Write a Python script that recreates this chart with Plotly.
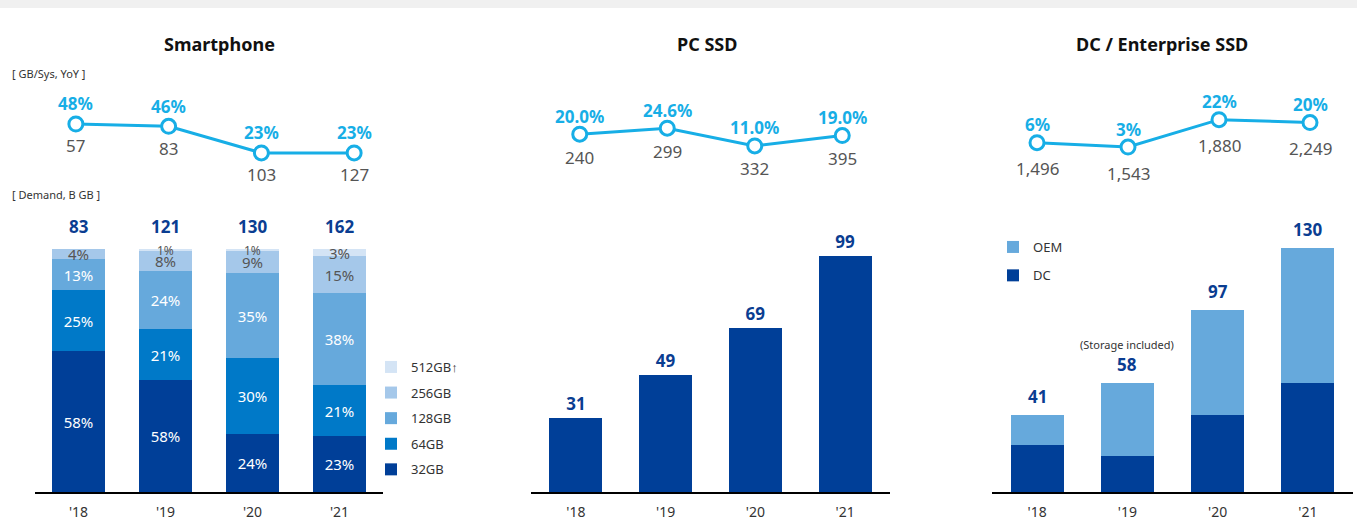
import plotly.graph_objects as go

W, H = 1357, 521
FONT = "Noto Sans"

years = ["'18", "'19", "'20", "'21"]

# Smartphone
sp_yoy = [48, 46, 23, 23]
sp_yoy_text = ["48%", "46%", "23%", "23%"]
sp_gbsys = ["57", "83", "103", "127"]
sp_total = [83, 121, 130, 162]
sp_segments = ["32GB", "64GB", "128GB", "256GB", "512GB↑"]
sp_share = {
    "32GB": [58, 46, 24, 23],
    "64GB": [25, 21, 31, 21],
    "128GB": [13, 24, 35, 38],
    "256GB": [4, 8, 9, 15],
    "512GB↑": [0, 1, 1, 3],
}
sp_label = {
    "32GB": ["58%", "58%", "24%", "23%"],
    "64GB": ["25%", "21%", "30%", "21%"],
    "128GB": ["13%", "24%", "35%", "38%"],
    "256GB": ["4%", "8%", "9%", "15%"],
    "512GB↑": ["", "1%", "1%", "3%"],
}

# PC SSD
pc_yoy = [20.0, 24.6, 11.0, 19.0]
pc_yoy_text = ["20.0%", "24.6%", "11.0%", "19.0%"]
pc_gbsys = ["240", "299", "332", "395"]
pc_demand = [31, 49, 69, 99]

# DC / Enterprise SSD
dc_yoy = [6, 3, 22, 20]
dc_yoy_text = ["6%", "3%", "22%", "20%"]
dc_gbsys = ["1,496", "1,543", "1,880", "2,249"]
dc_dc = [25, 19, 41, 58]
dc_oem = [16, 39, 56, 72]
dc_total = [41, 58, 97, 130]

C32 = "#003f98"
C64 = "#0079c8"
C128 = "#66a9dc"
C256 = "#a5c8ea"
C512 = "#d4e4f5"
CLINE = "#17aee6"
CTOT = "#0a3d91"
CGRAY = "#555555"

seg_colors = {"32GB": C32, "64GB": C64, "128GB": C128, "256GB": C256, "512GB↑": C512}


def px_x(p):
    return p / W


def px_y(p):
    return 1 - p / H


fig = go.Figure()

# ---- line charts ----
def add_line(xa, ya, vals):
    fig.add_trace(go.Scatter(
        x=years, y=vals, mode="lines+markers", xaxis=xa, yaxis=ya,
        line=dict(color=CLINE, width=3),
        marker=dict(size=14, color="white", line=dict(color=CLINE, width=3)),
        showlegend=False, hoverinfo="skip", cliponaxis=False))

add_line("x", "y", sp_yoy)
add_line("x3", "y3", pc_yoy)
add_line("x5", "y5", dc_yoy)

annotations = []

def line_labels(xref, yref, vals, top_txt, bot_txt, up, down):
    for xv, yv, t, b in zip(years, vals, top_txt, bot_txt):
        annotations.append(dict(x=xv, y=yv, xref=xref, yref=yref, text=t,
                                showarrow=False, yshift=up,
                                font=dict(family=FONT, size=17, color=CLINE, weight="bold")))
        annotations.append(dict(x=xv, y=yv, xref=xref, yref=yref, text=b,
                                showarrow=False, yshift=-down,
                                font=dict(family=FONT, size=17, color=CGRAY)))

line_labels("x", "y", sp_yoy, sp_yoy_text, sp_gbsys, 20, 22)
line_labels("x3", "y3", pc_yoy, pc_yoy_text, pc_gbsys, 18, 23)
line_labels("x5", "y5", dc_yoy, dc_yoy_text, dc_gbsys, 18, 26)

# ---- smartphone stacked bars ----
n_seg = len(sp_segments)
for i, seg in enumerate(sp_segments):
    light = seg in ("256GB", "512GB↑")
    top_seg = seg == "512GB↑"
    fig.add_trace(go.Bar(
        x=years, y=sp_share[seg], name=seg, xaxis="x2", yaxis="y2",
        marker=dict(color=seg_colors[seg], line=dict(width=0)),
        width=0.61, text=None if top_seg else sp_label[seg],
        textposition="none" if top_seg else "inside",
        insidetextanchor="middle", constraintext="none", textangle=0,
        insidetextfont=dict(family=FONT, size=15,
                            color=CGRAY if light else "white"),
        legend="legend", legendgroup=seg, legendrank=n_seg - i, hoverinfo="skip"))

# labels of the thin top segment, centred on the segment
for xv, sh, t in zip(years, sp_share["512GB↑"], sp_label["512GB↑"]):
    if t:
        annotations.append(dict(x=xv, y=100 - sh / 2, xref="x2", yref="y2", text=t,
                                showarrow=False, yanchor="middle",
                                font=dict(family=FONT, size=12 if sh < 2 else 15, color=CGRAY)))

for xv, t in zip(years, sp_total):
    annotations.append(dict(x=xv, y=100, xref="x2", yref="y2", text=str(t),
                            showarrow=False, yanchor="bottom", yshift=9,
                            font=dict(family=FONT, size=17, color=CTOT, weight="bold")))

# ---- PC SSD bars ----
fig.add_trace(go.Bar(
    x=years, y=pc_demand, xaxis="x4", yaxis="y4", width=0.59,
    marker=dict(color=C32, line=dict(width=0)), showlegend=False,
    text=[str(v) for v in pc_demand], textposition="outside", cliponaxis=False,
    outsidetextfont=dict(family=FONT, size=17, color=CTOT, weight="bold"),
    hoverinfo="skip"))

# ---- DC bars ----
fig.add_trace(go.Bar(
    x=years, y=dc_dc, name="DC", xaxis="x6", yaxis="y6", width=0.587,
    marker=dict(color=C32, line=dict(width=0)), legend="legend2",
    legendgroup="DC", legendrank=2, hoverinfo="skip"))
fig.add_trace(go.Bar(
    x=years, y=dc_oem, name="OEM", xaxis="x6", yaxis="y6", width=0.587,
    marker=dict(color=C128, line=dict(width=0)), legend="legend2",
    legendgroup="OEM", legendrank=1, hoverinfo="skip"))
for xv, t in zip(years, dc_total):
    annotations.append(dict(x=xv, y=t, xref="x6", yref="y6", text=str(t),
                            showarrow=False, yanchor="bottom", yshift=5,
                            font=dict(family=FONT, size=17, color=CTOT, weight="bold")))
annotations.append(dict(x=years[1], y=dc_total[1], xref="x6", yref="y6",
                        text="(Storage included)", showarrow=False,
                        yanchor="bottom", yshift=29,
                        font=dict(family=FONT, size=11, color="#333333")))

# ---- titles and notes ----
for cx, t in [(220, "Smartphone"), (707, "PC SSD"), (1162, "DC / Enterprise SSD")]:
    annotations.append(dict(x=px_x(cx), y=px_y(44), xref="paper", yref="paper",
                            text=t, showarrow=False, xanchor="center", yanchor="middle",
                            font=dict(family=FONT, size=18, color="#111111", weight="bold")))
for cy, t in [(74, "[ GB/Sys, YoY ]"), (194, "[ Demand, B GB ]")]:
    annotations.append(dict(x=px_x(10), y=px_y(cy), xref="paper", yref="paper",
                            text=t, showarrow=False, xanchor="left", yanchor="middle",
                            font=dict(family=FONT, size=11, color="#333333")))

hidden = dict(visible=False, fixedrange=True)
bar_x = dict(showline=True, linecolor="black", linewidth=2, ticks="",
             showgrid=False, zeroline=False, ticklabelstandoff=6,
             tickfont=dict(family=FONT, size=14, color="#333333"),
             range=[-0.5, 3.5], type="category")
bar_y = dict(visible=False, showgrid=False, zeroline=False)

fig.update_layout(
    width=W, height=H, margin=dict(l=0, r=0, t=0, b=0),
    paper_bgcolor="white", plot_bgcolor="white",
    barmode="stack", annotations=annotations,
    font=dict(family=FONT),
    shapes=[dict(type="rect", xref="paper", yref="paper", x0=0, x1=1,
                 y0=px_y(8), y1=1, fillcolor="#f0f0f0", line=dict(width=0), layer="below")],
    xaxis=dict(domain=[px_x(29.5), px_x(400.5)], range=[-0.5, 3.5], type="category", **hidden),
    yaxis=dict(domain=[px_y(170), px_y(100)], range=[8.3, 68.7], **hidden),
    xaxis2=dict(domain=[px_x(35), px_x(383)], anchor="y2", **bar_x),
    yaxis2=dict(domain=[px_y(492), px_y(249)], range=[0, 100], anchor="x2", **bar_y),
    xaxis3=dict(domain=[px_x(536), px_x(886)], range=[-0.5, 3.5], type="category", anchor="y3", **hidden),
    yaxis3=dict(domain=[px_y(170), px_y(100)], range=[-7.5, 46.3], anchor="x3", **hidden),
    xaxis4=dict(domain=[px_x(531), px_x(890)], anchor="y4", **bar_x),
    yaxis4=dict(domain=[px_y(492), px_y(230)], range=[0, 110], anchor="x4", **bar_y),
    xaxis5=dict(domain=[px_x(991.5), px_x(1355.5)], range=[-0.5, 3.5], type="category", anchor="y5", **hidden),
    yaxis5=dict(domain=[px_y(175), px_y(95)], range=[-16.4, 39.1], anchor="x5", **hidden),
    xaxis6=dict(domain=[px_x(992), px_x(1353)], anchor="y6", **bar_x),
    yaxis6=dict(domain=[px_y(492), px_y(229)], range=[0, 140], anchor="x6", **bar_y),
    legend=dict(x=px_x(371), y=px_y(352), xanchor="left", yanchor="top",
                traceorder="grouped", tracegroupgap=5.7,
                font=dict(family=FONT, size=13, color="#333333"),
                bgcolor="rgba(0,0,0,0)"),
    legend2=dict(x=px_x(993), y=px_y(232), xanchor="left", yanchor="top",
                 traceorder="grouped", tracegroupgap=8.5,
                 font=dict(family=FONT, size=13, color="#333333"),
                 bgcolor="rgba(0,0,0,0)"),
)

fig.write_html(
    "out.html",
    config={"displayModeBar": False},
    post_script="document.body.style.margin='0';document.body.style.padding='0';",
)
